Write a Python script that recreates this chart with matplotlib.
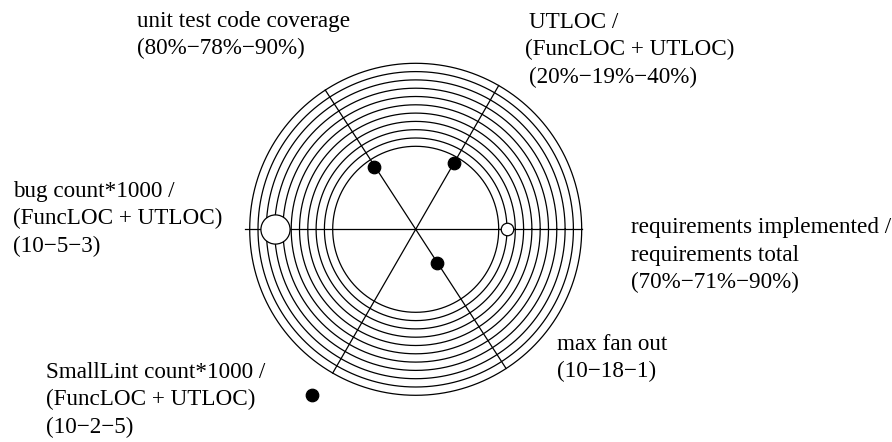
import numpy as np
import matplotlib
matplotlib.use("Agg")
import matplotlib.pyplot as plt

# ---- data ----
metric_labels = [
    ["requirements implemented /", "requirements total", "(70%\u221271%\u221290%)"],
    ["UTLOC /", "(FuncLOC + UTLOC)", "(20%\u221219%\u221240%)"],
    ["unit test code coverage", "(80%\u221278%\u221290%)"],
    ["bug count*1000 /", "(FuncLOC + UTLOC)", "(10\u22125\u22123)"],
    ["SmallLint count*1000 /", "(FuncLOC + UTLOC)", "(10\u22122\u22125)"],
    ["max fan out", "(10\u221218\u22121)"],
]
axis_angles_deg = [0, 60, 123, 180, 240, 303]
point_angles_deg = [0, 60, 124, 180, 238, 303]
point_radius = [0.55, 0.46, 0.45, 0.85, 1.18, 0.24]
ring_levels = [0.50, 0.55, 0.60, 0.65, 0.70, 0.75, 0.80, 0.85, 0.90, 0.95, 1.00]

# ---- styles ----
marker_filled = [False, True, True, False, True, True]
marker_size = [9, 9, 9, 21, 9, 9]
label_pos_px = [(631, 233), (529, 28), (137, 27), (13, 197), (46, 378), (557, 350)]
line_x_shift_px = {(1, 1): -4}
line_step_px = 27.5

W, H = 892, 442
cx, cy, R = 415.7, 229.3, 166.0

plt.rcParams['font.family'] = ['Liberation Serif', 'DejaVu Serif']
fig = plt.figure(figsize=(W / 100, H / 100), dpi=100)
ax = fig.add_axes([0, 0, 1, 1])
ax.set_xlim(-cx / R, (W - cx) / R)
ax.set_ylim(-(H - cy) / R, cy / R)
ax.axis('off')


def px(x, y):
    return (x - cx) / R, (cy - y) / R


t = np.linspace(0, 2 * np.pi, 721)
for r in ring_levels:
    ax.plot(r * np.cos(t), r * np.sin(t), color='black', lw=0.9)

for a in axis_angles_deg:
    ar = np.deg2rad(a)
    ext = 1.028 if a == 180 else 1.0
    ax.plot([0, ext * np.cos(ar)], [0, ext * np.sin(ar)], color='black', lw=0.9)

for a, r, filled, ms in zip(point_angles_deg, point_radius, marker_filled, marker_size):
    ar = np.deg2rad(a)
    ax.plot(r * np.cos(ar), r * np.sin(ar), 'o', ms=ms,
            mfc='black' if filled else 'white', mec='black', mew=0.9, zorder=5)

for k, (lines, (x0, y0)) in enumerate(zip(metric_labels, label_pos_px)):
    for i, s in enumerate(lines):
        X, Y = px(x0 + line_x_shift_px.get((k, i), 0), y0 + i * line_step_px)
        ax.text(X, Y, s, fontsize=16.7, ha='left', va='baseline', color='black')

fig.savefig('out.png', dpi=100)
